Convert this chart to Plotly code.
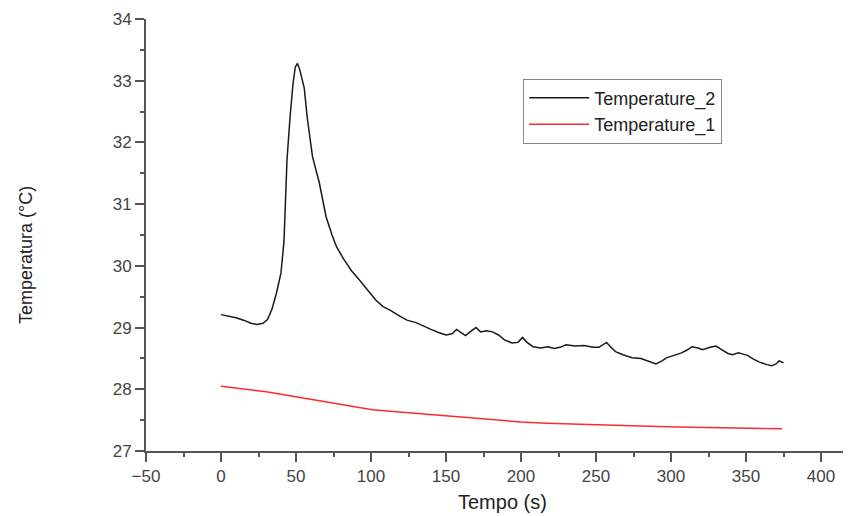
"""
Temperature vs time chart (Origin style) using Plotly
"""
import plotly.graph_objects as go

# Temperature_2 (black curve)
t2_time = [0, 5, 10, 15, 20, 24, 28, 31, 34, 37, 40, 42, 43, 44, 46, 48, 49.5, 51,
           52.5, 55.5, 57.5, 61, 65.5, 70, 74, 77, 82, 87, 93, 98, 103, 108, 113,
           118, 124, 130, 135, 140, 145, 150, 154, 157, 160, 163, 166, 170, 173,
           177, 181, 185, 189, 194, 198, 201, 204, 208, 213, 218, 222, 226, 230,
           236, 242, 248, 252, 255, 257, 260, 263, 268, 274, 280, 285, 290, 294,
           297, 302, 307, 311, 314, 318, 321, 326, 330, 334, 338, 341, 345, 348,
           351, 355, 359, 364, 367, 370, 372, 375]
t2_temp = [29.21, 29.19, 29.16, 29.12, 29.07, 29.05, 29.07, 29.13, 29.30, 29.56,
           29.89, 30.40, 30.96, 31.72, 32.40, 32.95, 33.22, 33.28, 33.18, 32.88,
           32.40, 31.77, 31.35, 30.80, 30.50, 30.31, 30.10, 29.92, 29.75, 29.60,
           29.45, 29.34, 29.28, 29.20, 29.12, 29.08, 29.02, 28.97, 28.92, 28.88,
           28.90, 28.97, 28.92, 28.87, 28.93, 29.00, 28.93, 28.95, 28.93, 28.88,
           28.80, 28.75, 28.76, 28.84, 28.76, 28.69, 28.67, 28.69, 28.66, 28.68,
           28.72, 28.70, 28.71, 28.68, 28.68, 28.72, 28.76, 28.68, 28.61, 28.56,
           28.51, 28.50, 28.46, 28.41, 28.46, 28.51, 28.55, 28.59, 28.64, 28.69,
           28.67, 28.64, 28.68, 28.70, 28.64, 28.58, 28.56, 28.59, 28.57, 28.55,
           28.49, 28.44, 28.40, 28.38, 28.41, 28.46, 28.43]

# Temperature_1 (red curve)
t1_time = [0, 10, 20, 30, 40, 50, 60, 74, 85, 101, 115, 130, 152, 172, 185, 200,
           217, 240, 261, 285, 305, 330, 350, 374]
t1_temp = [28.05, 28.02, 28.00, 27.96, 27.92, 27.88, 27.84, 27.78, 27.73, 27.67,
           27.64, 27.61, 27.56, 27.52, 27.50, 27.47, 27.45, 27.43, 27.42, 27.40,
           27.39, 27.38, 27.37, 27.36]

x_ticks = [-50, 0, 50, 100, 150, 200, 250, 300, 350, 400]
y_ticks = [27, 28, 29, 30, 31, 32, 33, 34]

FONT = "Liberation Sans, Arial, sans-serif"
AXIS_COLOR = '#555555'

fig = go.Figure()

fig.add_trace(go.Scatter(
    x=t2_time, y=t2_temp,
    mode='lines',
    name='Temperature_2',
    line=dict(color='#1a1a1a', width=1.5)
))
fig.add_trace(go.Scatter(
    x=t1_time, y=t1_temp,
    mode='lines',
    name='Temperature_1',
    line=dict(color='#ff2a2a', width=1.5)
))

axis_style = dict(
    showline=True, linewidth=2, linecolor=AXIS_COLOR,
    ticks='outside', ticklen=9, tickwidth=2, tickcolor=AXIS_COLOR,
    showgrid=False, zeroline=False,
    tickfont=dict(family=FONT, size=17, color='#444444'),
)

fig.update_xaxes(
    range=[-50, 420], tickvals=x_ticks,
    minor=dict(ticks='outside', ticklen=4, tickwidth=2, tickcolor=AXIS_COLOR, dtick=25, tick0=-50),
    **axis_style
)
fig.update_yaxes(
    range=[27, 34], tickvals=y_ticks,
    minor=dict(ticks='outside', ticklen=4, tickwidth=2, tickcolor=AXIS_COLOR, dtick=0.5, tick0=27),
    **axis_style
)

# axis titles
fig.add_annotation(
    text="Temperatura (°C)", textangle=-90,
    xref="paper", yref="paper", x=-0.170, y=0.454,
    xanchor='center', yanchor='middle',
    showarrow=False, font=dict(family=FONT, size=18, color='#222222')
)
fig.add_annotation(
    text="Tempo (s)",
    xref="paper", yref="paper", x=0.506, y=-0.118,
    xanchor='center', yanchor='middle',
    showarrow=False, font=dict(family=FONT, size=20, color='#222222')
)

# page body has an 8px margin, so the figure is 8px smaller than the window
fig.update_layout(
    width=843, height=508,
    margin=dict(l=138, r=0, t=11, b=65, autoexpand=False),
    paper_bgcolor='white', plot_bgcolor='white',
    showlegend=True,
    legend=dict(
        x=0.535, y=0.862, xanchor='left', yanchor='top',
        bordercolor='#888888', borderwidth=1, bgcolor='white',
        font=dict(family=FONT, size=18, color='#222222'),
        tracegroupgap=0, itemwidth=60
    )
)

fig.write_html("out.html")
